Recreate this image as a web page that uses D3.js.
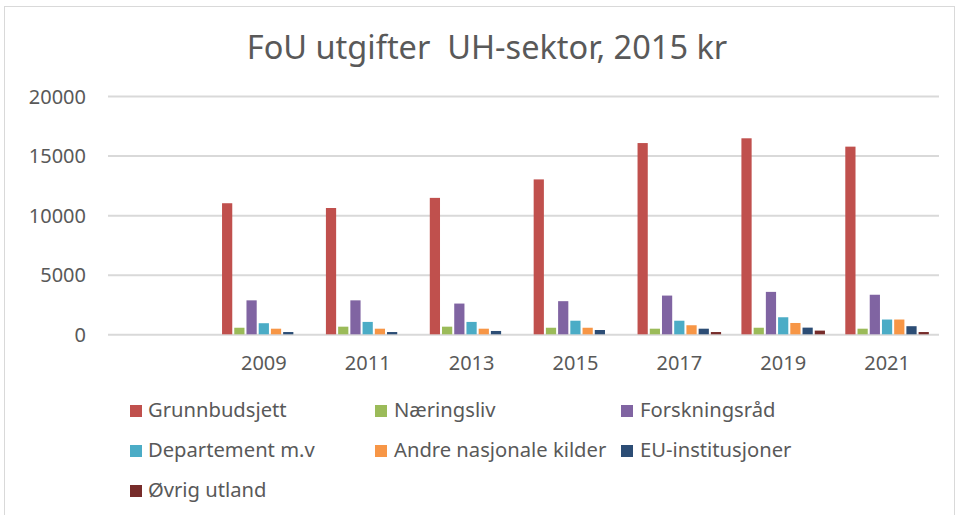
<!DOCTYPE html>
<html>
<head>
<meta charset="utf-8">
<script src="https://cdn.jsdelivr.net/npm/d3@7"></script>
<style>
  html, body { margin: 0; padding: 0; background: #fff; }
  svg { display: block; }
  text { font-family: 'Noto Sans', sans-serif; fill: #595959; }
</style>
</head>
<body>
<svg id="chart" width="957" height="515"></svg>
<script>
const categories = ["", "2009", "2011", "2013", "2015", "2017", "2019", "2021"];
const seriesNames = ["Grunnbudsjett", "Næringsliv", "Forskningsråd", "Departement m.v", "Andre nasjonale kilder", "EU-institusjoner", "Øvrig utland"];
const grunnbudsjett = [null, 11000, 10600, 11450, 13000, 16050, 16450, 15750];
const naeringsliv   = [null, 550, 640, 640, 550, 470, 550, 470];
const forskningsrad = [null, 2850, 2850, 2580, 2780, 3250, 3560, 3320];
const departement   = [null, 930, 1040, 1040, 1140, 1140, 1430, 1240];
const andreNasjonale = [null, 470, 470, 470, 550, 760, 950, 1240];
const euInstitusjoner = [null, 190, 190, 280, 360, 470, 560, 680];
const ovrigUtland   = [null, 0, 0, 0, 0, 190, 310, 190];
const yTicks = [0, 5000, 10000, 15000, 20000];
const colors = ["#C0504D", "#9BBB59", "#8064A2", "#4BACC6", "#F79646", "#2C4D75", "#772C2A"];
const title = "FoU utgifter  UH-sektor, 2015 kr";

const seriesValues = [grunnbudsjett, naeringsliv, forskningsrad, departement, andreNasjonale, euInstitusjoner, ovrigUtland];

(function () {
const svg = d3.select("#chart");
const pLeft = 108, pRight = 939, pTop = 96, pBottom = 334.3;

// frame
svg.append("rect").attr("x", 4.5).attr("y", 6.5).attr("width", 950).attr("height", 530)
  .attr("fill", "none").attr("stroke", "#d9d9d9").attr("stroke-width", 1);

// title
svg.append("text").attr("x", 487).attr("y", 59).attr("text-anchor", "middle")
  .style("font-size", "32.5px").style("white-space", "pre").text(title);

const x = d3.scaleBand().domain(categories).range([pLeft, pRight]).paddingInner(0).paddingOuter(0);
const slot = x.bandwidth() / 8.5;
const xs = d3.scaleBand().domain(seriesNames)
  .range([slot * 0.75, x.bandwidth() - slot * 0.75]).padding(0);
const y = d3.scaleLinear().domain([0, 20000]).range([pBottom, pTop]);

// y axis with gridlines
const yAxis = svg.append("g").attr("transform", `translate(${pLeft},0)`)
  .call(d3.axisLeft(y).tickValues(yTicks).tickSize(-(pRight - pLeft)).tickPadding(22).tickFormat(d3.format("d")));
yAxis.select(".domain").remove();
yAxis.selectAll(".tick line").attr("stroke", "#d9d9d9").attr("stroke-width", 2);
yAxis.selectAll(".tick text").style("font-size", "20px").attr("fill", "#595959")
  .attr("dy", "0.35em");
yAxis.attr("font-family", null);

// bars
const groups = svg.append("g").selectAll("g")
  .data(categories.map((c, i) => ({ c, i })))
  .join("g")
  .attr("transform", d => `translate(${x(d.c)},0)`);

groups.selectAll("rect")
  .data(d => seriesNames.map((s, k) => ({ s, k, v: seriesValues[k][d.i] })).filter(e => e.v))
  .join("rect")
  .attr("x", e => xs(e.s) + 1)
  .attr("width", xs.bandwidth() - 2)
  .attr("y", e => y(e.v))
  .attr("height", e => y(0) - y(e.v))
  .attr("fill", e => colors[e.k]);

// x axis labels
const xAxis = svg.append("g").attr("transform", `translate(0,${pBottom})`)
  .call(d3.axisBottom(x).tickSize(0).tickPadding(0));
xAxis.select(".domain").remove();
xAxis.attr("font-family", null);
xAxis.selectAll(".tick text").style("font-size", "20px").attr("fill", "#595959")
  .attr("dy", null).attr("y", 370 - pBottom);

// legend
const colSquareX = [130, 375, 621];
const colTextX = [148, 394, 640];
const rowY = [417, 457, 497];
const legend = svg.append("g").selectAll("g").data(seriesNames).join("g")
  .attr("transform", (d, i) => `translate(0,${rowY[Math.floor(i / 3)]})`);
legend.append("rect")
  .attr("x", (d, i) => colSquareX[i % 3]).attr("y", -12)
  .attr("width", 12).attr("height", 12)
  .attr("fill", (d, i) => colors[i]);
legend.append("text")
  .attr("x", (d, i) => colTextX[i % 3]).attr("y", 0)
  .style("font-size", "20.2px").text(d => d);
})();
</script>
</body>
</html>
